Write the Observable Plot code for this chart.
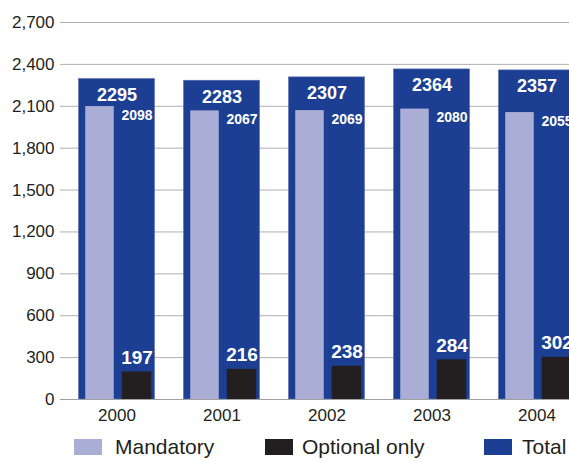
<!DOCTYPE html>
<html>
<head>
<meta charset="utf-8">
<script src="https://cdn.jsdelivr.net/npm/d3@7"></script>
<script src="https://cdn.jsdelivr.net/npm/@observablehq/plot@0.6"></script>
<style>
  html, body { margin: 0; padding: 0; background: #fff; }
  body { width: 569px; height: 462px; overflow: hidden; font-family: "Liberation Sans", Arial, sans-serif; }
  #chart { position: relative; width: 569px; }
  #legend { position: relative; width: 569px; height: 30px; }
  .item { position: absolute; top: 0; height: 30px; display: flex; align-items: center; font-size: 21px; color: #231f20; }
  .sw { width: 28px; height: 16px; display: inline-block; }
</style>
</head>
<body>
<div id="chart"></div>
<div id="legend"></div>
<script>
const years = ["2000", "2001", "2002", "2003", "2004"];
const mandatory = [2098, 2067, 2069, 2080, 2055];
const optionalOnly = [197, 216, 238, 284, 302];
const total = [2295, 2283, 2307, 2364, 2357];
const yTicks = [0, 300, 600, 900, 1200, 1500, 1800, 2100, 2400, 2700];
const seriesNames = ["Mandatory", "Optional only", "Total"];
const seriesColors = ["#aaaed6", "#231f20", "#1c3f94"];

const rows = years.map((year, i) => ({
  year,
  mandatory: mandatory[i],
  optional: optionalOnly[i],
  total: total[i]
}));

const half = 52.75;
const chart = Plot.plot({
  width: 569,
  height: 432,
  marginTop: 22,
  marginBottom: 33,
  marginLeft: 60,
  marginRight: 0,
  style: { fontFamily: "Liberation Sans, Arial, sans-serif", fontSize: "17px", color: "#231f20", background: "white" },
  x: { domain: years, range: [63, 590.5], padding: 0, label: null },
  y: { domain: [0, 2700], label: null },
  marks: [
    Plot.gridY(yTicks, { stroke: "#b0b0b0", strokeOpacity: 1 }),
    Plot.barY(rows, { x: "year", y: "total", fill: seriesColors[2], stroke: "#5a6fb0", strokeWidth: 0.6, insetLeft: 14.5, insetRight: 14.5 }),
    Plot.barY(rows, { x: "year", y: "mandatory", fill: seriesColors[0], insetLeft: half - 31.5, insetRight: half + 2.5 }),
    Plot.barY(rows, { x: "year", y: "optional", fill: seriesColors[1], insetLeft: half + 5, insetRight: half - 35 }),
    Plot.ruleY([0], { stroke: "#a0a0a0" }),
    Plot.axisY(yTicks, { tickFormat: d3.format(","), tickSize: 0, tickPadding: 6, fontSize: 17, label: null }),
    Plot.axisX({ tickSize: 0, tickPadding: 9, fontSize: 17, label: null }),
    Plot.text(rows, { x: "year", y: "total", text: d => String(d.total), fill: "white", fontWeight: "bold", fontSize: 18, lineAnchor: "top", dy: 9 }),
    Plot.text(rows, { x: "year", y: "mandatory", text: d => String(d.mandatory), fill: "white", fontWeight: "bold", fontSize: 14, lineAnchor: "top", dy: 3, dx: 20 }),
    Plot.text(rows, { x: "year", y: "optional", text: d => String(d.optional), fill: "white", fontWeight: "bold", fontSize: 19, lineAnchor: "bottom", dy: -8, dx: 20 })
  ]
});
document.getElementById("chart").appendChild(chart);

const legendLeft = [[74, 115], [265, 302], [484, 522]];
const legend = document.getElementById("legend");
seriesNames.forEach((name, i) => {
  const sw = document.createElement("span");
  sw.className = "item";
  sw.style.left = legendLeft[i][0] + "px";
  sw.innerHTML = `<span class="sw" style="background:${seriesColors[i]}"></span>`;
  legend.appendChild(sw);
  const t = document.createElement("span");
  t.className = "item";
  t.style.left = legendLeft[i][1] + "px";
  t.textContent = name;
  legend.appendChild(t);
});
</script>
</body>
</html>
